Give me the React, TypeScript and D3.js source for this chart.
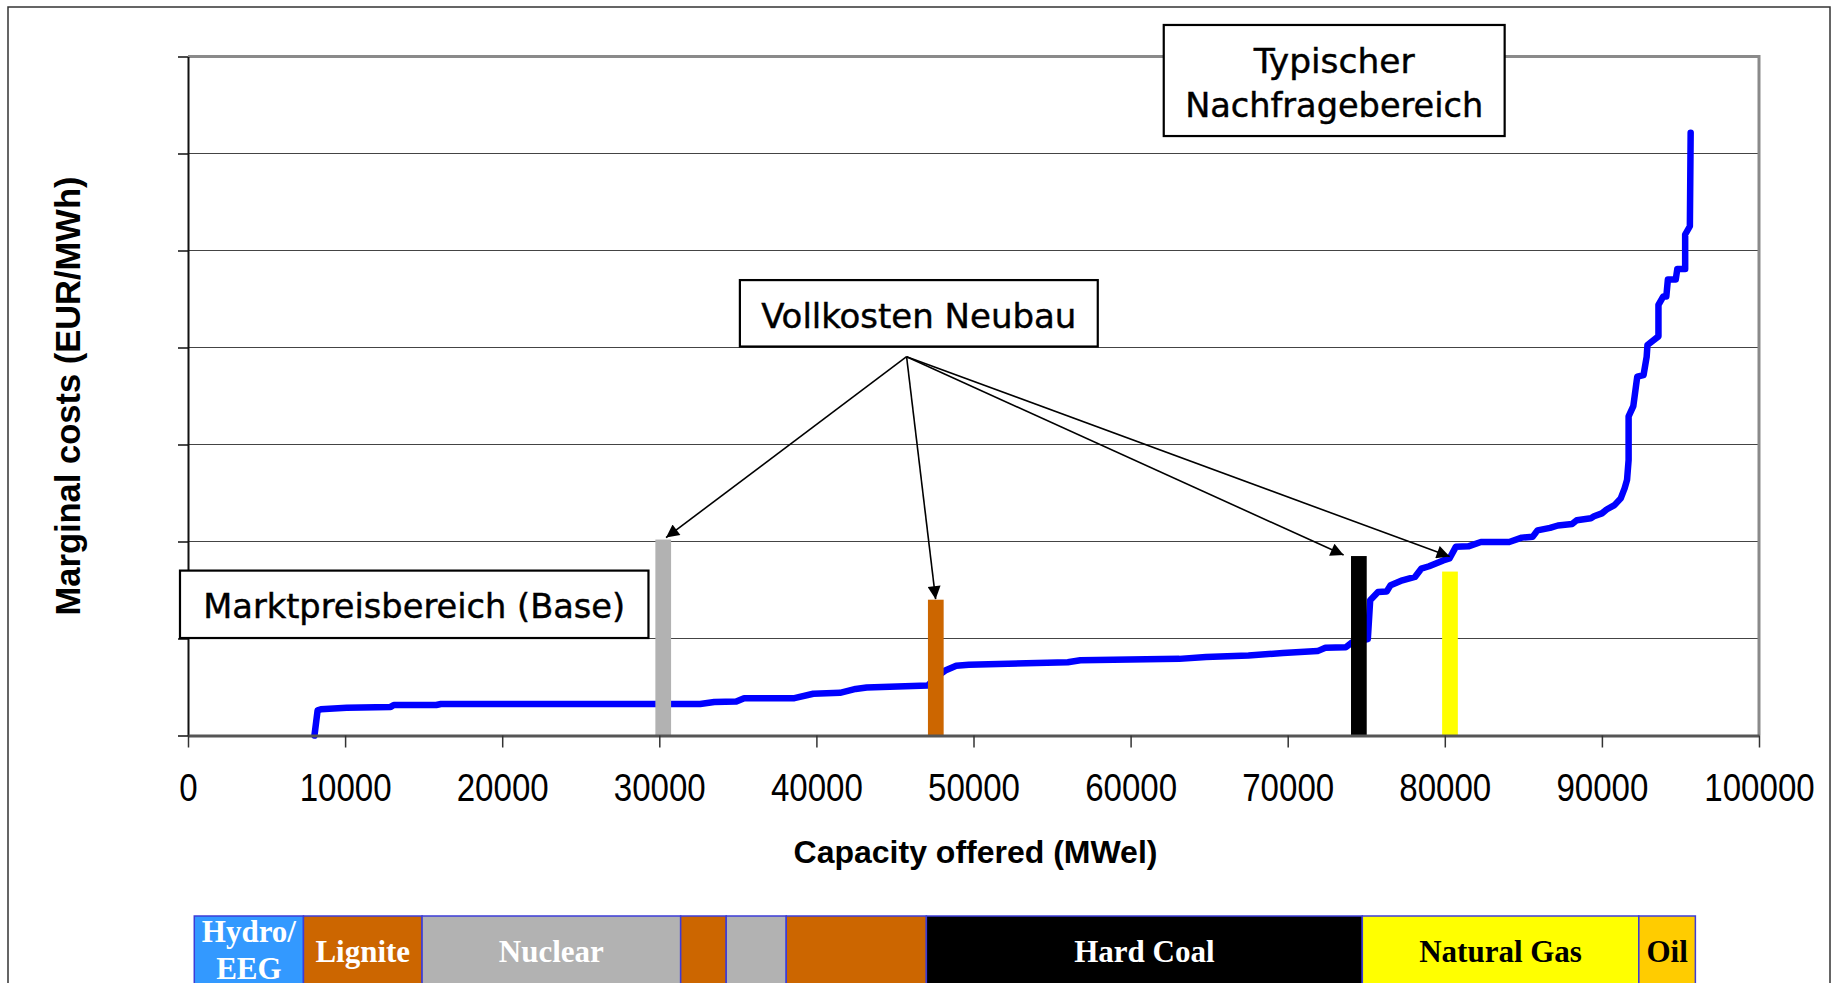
import React, { useEffect, useRef } from 'react';
import * as d3 from 'd3';

// merit order curve: capacity (MW) vs marginal cost (EUR/MWh)
const curveMW = [
  8050, 8250, 8450, 10100, 12900, 13100, 15800, 16100, 32600, 33500, 34900, 35400,
  38600, 39800, 41500, 42500, 43200, 47100, 47600, 48200, 48900, 49700, 56000, 56800,
  63100, 64800, 67500, 69700, 71900, 72400, 73700, 74100, 75100, 75250, 75750, 76300,
  76550, 77300, 78100, 78500, 79000, 79900, 80300, 80700, 81500, 82300, 84100, 84900,
  85600, 85900, 86700, 87200, 88100, 88400, 89300, 89500, 90000, 90300, 90800, 91200,
  91450, 91600, 91700, 91700, 92000, 92250, 92650, 92850, 92900, 93600, 93600, 93900,
  94100, 94200, 94700, 94800, 95300, 95300, 95600, 95650,
];
const curveCost = [
  0, 5.2, 5.4, 5.7, 5.9, 6.3, 6.3, 6.5, 6.5, 6.9, 7.0, 7.7,
  7.7, 8.6, 8.8, 9.6, 9.9, 10.3, 12.0, 13.4, 14.4, 14.6, 15.1, 15.5,
  15.8, 16.2, 16.5, 17.0, 17.4, 18.1, 18.2, 19.2, 19.9, 27.9, 29.6, 29.7,
  31.0, 32.0, 32.7, 34.4, 34.9, 36.1, 36.5, 38.9, 39.0, 39.9, 39.9, 40.8,
  41.0, 42.3, 42.8, 43.3, 43.6, 44.4, 44.8, 45.2, 45.8, 46.6, 47.5, 48.9,
  51.0, 52.7, 56.8, 65.8, 67.9, 74.0, 74.3, 78.1, 80.5, 82.3, 88.8, 90.5,
  90.5, 94.0, 94.0, 96.2, 96.2, 103.3, 105.0, 124.3,
];

// full cost of new plants ("Vollkosten Neubau")
const newBuildTypes = ['Nuclear', 'Lignite', 'Hard Coal', 'Natural Gas'];
const newBuildStartMW = [29750, 47100, 74030, 79830];
const newBuildCost = [40.4, 28.0, 37.0, 33.8];
const newBuildColors = ['#b2b2b2', '#cc6600', '#000000', '#ffff00'];

// arrows from the label to the bars
const arrowFrom = [45740, 78.1];
const arrowToMW = [30430, 47590, 73560, 80310];
const arrowToCost = [40.8, 28.1, 37.2, 36.9];

const xTicks = [0, 10000, 20000, 30000, 40000, 50000, 60000, 70000, 80000, 90000, 100000];
const yTicks = [0, 20, 40, 60, 80, 100, 120, 140];

// fuel bands under the chart
const fuelNames = [['Hydro/', 'EEG'], ['Lignite'], ['Nuclear'], [], [], [], ['Hard Coal'], ['Natural Gas'], ['Oil']];
const fuelStartMW = [400, 7350, 14900, 31360, 34260, 38080, 47000, 74750, 92350];
const fuelEndMW = [7350, 14900, 31360, 34260, 38080, 47000, 74750, 92350, 95950];
const fuelColors = ['#3399ff', '#cc6600', '#b2b2b2', '#cc6600', '#b2b2b2', '#cc6600', '#000000', '#ffff00', '#ffcc00'];
const fuelTextColors = ['#fff', '#fff', '#fff', '#fff', '#fff', '#fff', '#fff', '#000', '#000'];

const boxFont = "'DejaVu Sans Condensed', 'DejaVu Sans', sans-serif";
const sansFont = "'Liberation Sans', Arial, sans-serif";

const App = () => {
  const svgRef = useRef(null);

  useEffect(() => {
    const width = 1839;
    const height = 983;
    const plot = { left: 188, right: 1759, top: 56.5, bottom: 735.5 };

    const svg = d3.select(svgRef.current);
    svg.selectAll('*').remove();
    svg.attr('width', width).attr('height', height);

    const x = d3.scaleLinear().domain([0, 100000]).range([plot.left, plot.right]);
    const y = d3.scaleLinear().domain([0, 140]).range([plot.bottom, plot.top]);

    svg.append('defs').append('marker')
      .attr('id', 'arrowhead')
      .attr('viewBox', '0 0 10 10')
      .attr('refX', 10)
      .attr('refY', 5)
      .attr('markerUnits', 'userSpaceOnUse')
      .attr('markerWidth', 17)
      .attr('markerHeight', 13)
      .attr('orient', 'auto')
      .append('path')
      .attr('d', 'M0,0 L10,5 L0,10 z')
      .attr('fill', '#000');

    // outer frame
    svg.append('rect')
      .attr('x', 8).attr('y', 7)
      .attr('width', 1822).attr('height', 1000)
      .attr('fill', '#fff')
      .attr('stroke', '#333')
      .attr('stroke-width', 1.5);

    // gridlines
    svg.append('g')
      .selectAll('line')
      .data(yTicks.filter(d => d > 0 && d < 140))
      .enter().append('line')
      .attr('x1', plot.left).attr('x2', plot.right)
      .attr('y1', d => y(d)).attr('y2', d => y(d))
      .attr('stroke', '#444')
      .attr('stroke-width', 1.2);

    // top and right edge of plot area
    svg.append('path')
      .attr('d', `M${plot.left},${y(140)} H${x(100000)} V${y(0)}`)
      .attr('fill', 'none')
      .attr('stroke', '#8a8a8a')
      .attr('stroke-width', 3);

    // supply curve
    const curve = curveMW.map((mw, i) => [mw, curveCost[i]]);
    svg.append('path')
      .datum(curve)
      .attr('d', d3.line().x(d => x(d[0])).y(d => y(d[1])))
      .attr('fill', 'none')
      .attr('stroke', '#0000ff')
      .attr('stroke-width', 6.5)
      .attr('stroke-linejoin', 'round')
      .attr('stroke-linecap', 'round');

    // new build bars
    const barWidthMW = 1000;
    svg.append('g')
      .selectAll('rect')
      .data(newBuildTypes)
      .enter().append('rect')
      .attr('x', (d, i) => x(newBuildStartMW[i]))
      .attr('y', (d, i) => y(newBuildCost[i]))
      .attr('width', x(barWidthMW) - x(0))
      .attr('height', (d, i) => y(0) - y(newBuildCost[i]))
      .attr('fill', (d, i) => newBuildColors[i]);

    // axes
    const gy = svg.append('g')
      .attr('transform', `translate(${plot.left},0)`)
      .call(d3.axisLeft(y).tickValues(yTicks).tickSize(10).tickSizeOuter(0).tickFormat(() => ''));
    gy.select('.domain').attr('stroke', '#111').attr('stroke-width', 2);
    gy.selectAll('.tick line').attr('stroke', '#111').attr('stroke-width', 1.5);

    const gx = svg.append('g')
      .attr('transform', `translate(0,${plot.bottom})`)
      .call(d3.axisBottom(x).tickValues(xTicks).tickSize(12).tickSizeOuter(0).tickFormat(d3.format('d')));
    gx.select('.domain').attr('stroke', '#555').attr('stroke-width', 3);
    gx.selectAll('.tick line').attr('stroke', '#333').attr('stroke-width', 1.5);
    gx.selectAll('.tick text')
      .attr('y', 65.5)
      .attr('dy', 0)
      .attr('font-size', 38)
      .attr('font-family', sansFont)
      .attr('fill', '#000')
      .attr('transform', 'scale(0.87,1)');

    // axis titles
    svg.append('text')
      .attr('x', x(50000) + 2)
      .attr('y', 863)
      .attr('text-anchor', 'middle')
      .attr('font-family', sansFont)
      .attr('font-weight', 'bold')
      .attr('font-size', 32)
      .text('Capacity offered (MWel)');

    svg.append('text')
      .attr('transform', `translate(80,${(plot.top + plot.bottom) / 2}) rotate(-90)`)
      .attr('text-anchor', 'middle')
      .attr('font-family', sansFont)
      .attr('font-weight', 'bold')
      .attr('font-size', 34.5)
      .text('Marginal costs (EUR/MWh)');

    // arrows
    svg.append('g')
      .selectAll('line')
      .data(arrowToMW)
      .enter().append('line')
      .attr('x1', x(arrowFrom[0]))
      .attr('y1', y(arrowFrom[1]))
      .attr('x2', d => x(d))
      .attr('y2', (d, i) => y(arrowToCost[i]))
      .attr('stroke', '#000')
      .attr('stroke-width', 1.6)
      .attr('marker-end', 'url(#arrowhead)');

    // annotation boxes, given in data units
    const notes = [
      { x0: 35130, x1: 57910, y0: 93.9, y1: 80.2, lines: ['Vollkosten Neubau'], base: [84.1], len: [315] },
      { x0: 62110, x1: 83810, y0: 146.5, y1: 123.6, lines: ['Typischer', 'Nachfragebereich'], base: [136.7, 127.5], len: [161, 298] },
      { x0: -510, x1: 29310, y0: 34.0, y1: 20.1, lines: ['Marktpreisbereich (Base)'], base: [24.2], len: [422] },
    ];
    notes.forEach(n => {
      const g = svg.append('g');
      g.append('rect')
        .attr('x', x(n.x0)).attr('y', y(n.y0))
        .attr('width', x(n.x1) - x(n.x0))
        .attr('height', y(n.y1) - y(n.y0))
        .attr('fill', '#fff')
        .attr('stroke', '#000')
        .attr('stroke-width', 2.2);
      n.lines.forEach((t, i) => {
        g.append('text')
          .attr('x', (x(n.x0) + x(n.x1)) / 2)
          .attr('y', y(n.base[i]))
          .attr('text-anchor', 'middle')
          .attr('font-family', boxFont)
          .attr('font-size', 34)
          .attr('stroke', '#000')
          .attr('stroke-width', 0.4)
          .attr('textLength', n.len[i])
          .attr('lengthAdjust', 'spacingAndGlyphs')
          .text(t);
      });
    });

    // fuel type band
    const band = svg.append('g');
    const bandTop = 916;
    fuelNames.forEach((names, i) => {
      const x0 = x(fuelStartMW[i]);
      const x1 = x(fuelEndMW[i]);
      band.append('rect')
        .attr('x', x0).attr('y', bandTop)
        .attr('width', x1 - x0).attr('height', 90)
        .attr('fill', fuelColors[i])
        .attr('stroke', '#3c3cd8')
        .attr('stroke-width', 1.5);
      const cx = (x0 + x1) / 2;
      const bases = names.length === 2 ? [942, 979] : [962];
      names.forEach((t, j) => {
        band.append('text')
          .attr('x', cx)
          .attr('y', bases[j])
          .attr('text-anchor', 'middle')
          .attr('font-family', "'Liberation Serif', 'Times New Roman', serif")
          .attr('font-weight', 'bold')
          .attr('font-size', 31)
          .attr('fill', fuelTextColors[i])
          .text(t);
      });
    });
  }, []);

  return (
    <svg ref={svgRef} style={{ position: 'absolute', left: 0, top: 0, background: '#fff' }}></svg>
  );
};

export default App;
